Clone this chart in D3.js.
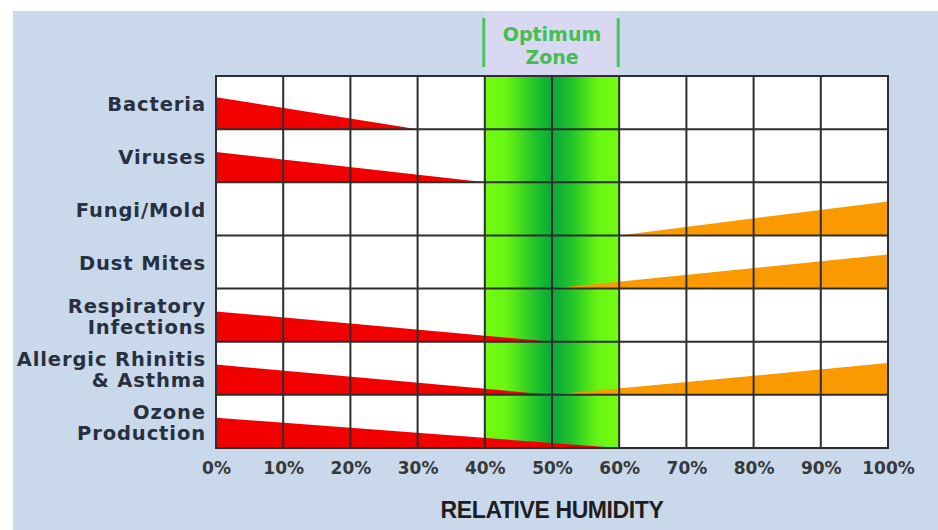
<!DOCTYPE html>
<html>
<head>
<meta charset="utf-8">
<script src="https://cdn.jsdelivr.net/npm/d3@7"></script>
<style>
  body { margin: 0; background: #fff; }
  svg { display: block; }
</style>
</head>
<body>
<svg id="chart" width="938" height="530"></svg>
<script>
(function() {

    // rows, top to bottom
    var categories = ["Bacteria", "Viruses", "Fungi/Mold", "Dust Mites",
        "Respiratory\nInfections", "Allergic Rhinitis\n& Asthma", "Ozone\nProduction"];
    // red wedge: effect at 0% humidity, fading to nothing at lowEnd
    var lowPeak = [0.6, 0.57, 0, 0, 0.57, 0.57, 0.57];
    var lowEnd = [30, 40, null, null, 50, 50, 60];
    // orange wedge: starts at highStart, grows to highPeak at 100%
    var highStart = [null, null, 60, 50, null, 50, null];
    var highPeak = [0, 0, 0.64, 0.64, 0, 0.6, 0];
    var ticks = [0, 10, 20, 30, 40, 50, 60, 70, 80, 90, 100];
    var optimum = [40, 60];

    var svg = d3.select("#chart");

    var x = d3.scaleLinear().domain([0, 100]).range([216, 888]);
    var y = d3.scaleBand().domain(categories).range([76, 448]);
    var h = d3.scaleLinear().domain([0, 1]).range([0, y.bandwidth()]);

    // page background
    svg.append("rect").attr("x", 13).attr("y", 11).attr("width", 925).attr("height", 519)
        .attr("fill", "#c9d9eb");
    svg.append("rect").attr("x", x(optimum[0])).attr("y", 11)
        .attr("width", x(optimum[1]) - x(optimum[0])).attr("height", y.range()[0] - 11)
        .attr("fill", "#d8d8f2");

    var defs = svg.append("defs");
    var grad = defs.append("linearGradient").attr("id", "zone")
        .attr("x1", "0%").attr("x2", "100%").attr("y1", "0%").attr("y2", "0%");
    [[0, "#72fb10"], [0.16, "#68f512"], [0.38, "#20c22a"], [0.5, "#06a93a"],
     [0.64, "#20c22a"], [0.84, "#68f512"], [1, "#72fb10"]].forEach(function(s) {
        grad.append("stop").attr("offset", s[0]).attr("stop-color", s[1]);
    });

    var top = y.range()[0], bottom = y.range()[1];

    // plot area
    svg.append("rect").attr("x", x(0)).attr("y", top)
        .attr("width", x(100) - x(0)).attr("height", bottom - top).attr("fill", "#fff");
    svg.append("rect").attr("x", x(optimum[0])).attr("y", top)
        .attr("width", x(optimum[1]) - x(optimum[0])).attr("height", bottom - top)
        .attr("fill", "url(#zone)");

    // wedges
    var rows = categories.map(function(c, i) {
        return { name: c, lowPeak: lowPeak[i], lowEnd: lowEnd[i], highStart: highStart[i], highPeak: highPeak[i] };
    });

    svg.append("g").selectAll("path")
        .data(rows.filter(function(d) { return d.lowEnd != null; }))
        .enter().append("path")
        .attr("fill", "#f20000")
        .attr("d", function(d) {
            var b = y(d.name) + y.bandwidth();
            return "M" + x(0) + "," + b + "L" + x(0) + "," + (b - h(d.lowPeak)) +
                "L" + x(d.lowEnd) + "," + b + "Z";
        });

    svg.append("g").selectAll("path")
        .data(rows.filter(function(d) { return d.highStart != null; }))
        .enter().append("path")
        .attr("fill", "#fb9a00")
        .attr("d", function(d) {
            var b = y(d.name) + y.bandwidth();
            return "M" + x(d.highStart) + "," + b + "L" + x(100) + "," + (b - h(d.highPeak)) +
                "L" + x(100) + "," + b + "Z";
        });

    // grid
    var grid = svg.append("g").attr("stroke", "#2e2e2e").attr("stroke-width", 2);
    grid.selectAll(".v").data(ticks).enter().append("line")
        .attr("x1", function(d) { return x(d); }).attr("x2", function(d) { return x(d); })
        .attr("y1", top).attr("y2", bottom);
    grid.selectAll(".h").data(categories.concat([null])).enter().append("line")
        .attr("x1", x(0) - 1).attr("x2", x(100) + 1)
        .attr("y1", function(d) { return d == null ? bottom : y(d); })
        .attr("y2", function(d) { return d == null ? bottom : y(d); });

    // row labels
    var labels = svg.append("g")
        .attr("font-family", "DejaVu Sans, sans-serif").attr("font-weight", "bold")
        .attr("font-size", 19.5).attr("letter-spacing", 0.9).attr("fill", "#283040")
        .attr("text-anchor", "end");
    labels.selectAll("text").data(categories).enter().append("text")
        .each(function(d) {
            var lines = d.split("\n");
            var cy = y(d) + y.bandwidth() / 2 + 1;
            var t = d3.select(this);
            lines.forEach(function(l, i) {
                t.append("tspan").attr("x", 206)
                    .attr("y", cy + (i - (lines.length - 1) / 2) * 21)
                    .attr("dy", "0.36em").text(l);
            });
        });

    // x axis
    var xAxis = d3.axisBottom(x).tickValues(ticks).tickSize(0).tickPadding(0)
        .tickFormat(function(d) { return d + "%"; });
    var ax = svg.append("g").attr("transform", "translate(0," + 462 + ")").call(xAxis);
    ax.select(".domain").remove();
    ax.selectAll("text")
        .attr("font-family", "DejaVu Sans, sans-serif").attr("font-weight", "bold")
        .attr("font-size", 17).attr("fill", "#383838").attr("dy", "0.71em");

    svg.append("text").attr("x", (x(0) + x(100)) / 2).attr("y", 510).attr("dy", "0.36em")
        .attr("text-anchor", "middle")
        .attr("font-family", "Liberation Sans, Arial, sans-serif").attr("font-weight", "bold")
        .attr("font-size", 23).attr("letter-spacing", -0.4).attr("fill", "#1e1e1e")
        .text("RELATIVE HUMIDITY");

    // optimum zone marker
    var zone = svg.append("g");
    zone.selectAll("line").data(optimum).enter().append("line")
        .attr("x1", function(d) { return x(d) - 1; }).attr("x2", function(d) { return x(d) - 1; })
        .attr("y1", 18).attr("y2", 67)
        .attr("stroke", "#4cc25e").attr("stroke-width", 3);
    zone.selectAll("text").data(["Optimum", "Zone"]).enter().append("text")
        .attr("x", (x(optimum[0]) + x(optimum[1])) / 2)
        .attr("y", function(d, i) { return 34 + i * 23; })
        .attr("dy", "0.36em").attr("text-anchor", "middle")
        .attr("font-family", "DejaVu Sans, sans-serif").attr("font-weight", "bold")
        .attr("font-size", 19).attr("fill", "#45bd53")
        .text(function(d) { return d; });

})();
</script>
</body>
</html>
